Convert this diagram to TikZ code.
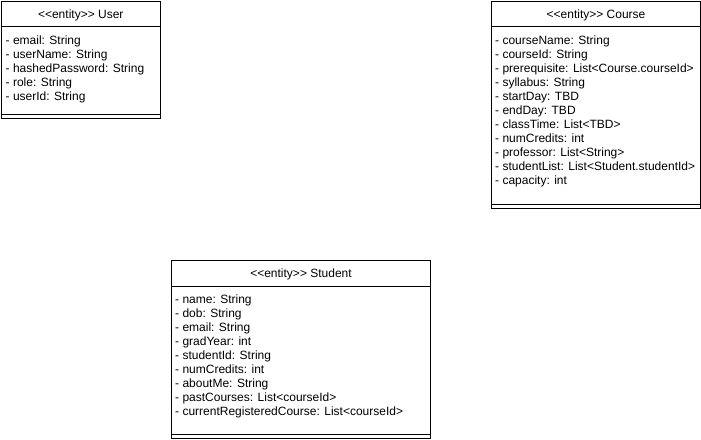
\documentclass[tikz,border=0pt]{standalone}
\usepackage{fontspec}
\setmainfont{Liberation Sans}
\newcommand{\lt}{\textless\kern0pt{}}
\newcommand{\gt}{\textgreater\kern0pt{}}
\begin{document}
\begin{tikzpicture}[x=1pt,y=-1pt,
  classbox/.style={draw, line width=1pt, inner sep=0pt, anchor=north west, fill=white},
  sepline/.style={line width=1pt},
  hdr/.style={anchor=base, inner sep=0pt, font=\fontsize{12}{14}\selectfont},
  attr/.style={anchor=base west, inner sep=0pt, font=\fontsize{12}{14}\selectfont}]
\useasboundingbox (0,0) rectangle (701,439);

% User
\node[classbox, minimum width=159.5pt, minimum height=116.5pt] (user) at (0.5,1) {};
\draw[sepline] ([yshift=-25pt]user.north west) -- ([yshift=-25pt]user.north east);
\draw[sepline] ([yshift=4.5pt]user.south west) -- ([yshift=4.5pt]user.south east);
\node[hdr] (userT) at ([yshift=-17pt]user.north) {\lt\lt entity\gt\gt\ User};
\foreach \t [count=\i from 0] in {email: String, userName: String, hashedPassword: String, role: String, userId: String}
  \node[attr] (userA\i) at ([xshift=5pt,yshift={-43pt-14pt*\i}]user.north west) {- \t};

% Course
\node[classbox, minimum width=209pt, minimum height=207pt] (course) at (491,1) {};
\draw[sepline] ([yshift=-25pt]course.north west) -- ([yshift=-25pt]course.north east);
\draw[sepline] ([yshift=4.5pt]course.south west) -- ([yshift=4.5pt]course.south east);
\node[hdr] (courseT) at ([yshift=-17pt]course.north) {\lt\lt entity\gt\gt\ Course};
\foreach \t [count=\i from 0] in {courseName: String, courseId: String, prerequisite: List\lt Course.courseId\gt, syllabus: String, startDay: TBD, endDay: TBD, classTime: List\lt TBD\gt, numCredits: int, professor: List\lt String\gt, studentList: List\lt Student.studentId\gt, capacity: int}
  \node[attr] (courseA\i) at ([xshift=4pt,yshift={-43pt-14pt*\i}]course.north west) {- \t};

% Student
\node[classbox, minimum width=259pt, minimum height=178pt] (student) at (171,260) {};
\draw[sepline] ([yshift=-26pt]student.north west) -- ([yshift=-26pt]student.north east);
\draw[sepline] ([yshift=4.5pt]student.south west) -- ([yshift=4.5pt]student.south east);
\node[hdr] (studentT) at ([yshift=-17.5pt]student.north) {\lt\lt entity\gt\gt\ Student};
\foreach \t [count=\i from 0] in {name: String, dob: String, email: String, gradYear: int, studentId: String, numCredits: int, aboutMe: String, pastCourses: List\lt courseId\gt, currentRegisteredCourse: List\lt courseId\gt}
  \node[attr] (studentA\i) at ([xshift=4pt,yshift={-43pt-14pt*\i}]student.north west) {- \t};
\end{tikzpicture}
\end{document}
